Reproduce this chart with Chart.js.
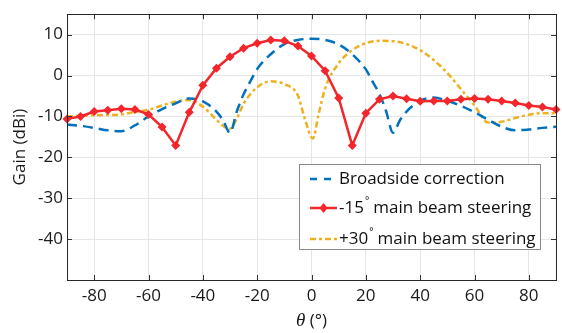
<!DOCTYPE html>
<html>
<head>
<meta charset="utf-8">
<script src="https://cdn.jsdelivr.net/npm/chart.js@4.4.1/dist/chart.umd.min.js"></script>
<style>
  html, body { margin: 0; padding: 0; background: #fff; }
  #wrap { width: 562px; height: 333px; }
</style>
</head>
<body>
<div id="wrap"><canvas id="c" width="562" height="333"></canvas></div>
<script>
// ---- data ----
const xTicks = [-80, -60, -40, -20, 0, 20, 40, 60, 80];
const yTicks = [-40, -30, -20, -10, 0, 10];

const seriesNames = ["Broadside correction", "-15", "+30"];

const broadAngles = [-90,-85,-80,-75,-70,-65,-60,-55,-50,-45,-40,-35,-32.5,-30,-27.5,-25,-22.5,-20,-15,-10,-5,0,5,10,15,20,22.5,25,27.5,30,32.5,35,40,45,50,55,60,65,70,75,80,85,90];
const broadGain   = [-12.0,-12.3,-12.8,-13.4,-13.6,-12.2,-10.0,-8.2,-6.8,-5.6,-6.3,-8.8,-11.0,-14.0,-8.8,-4.6,-1.4,1.6,5.2,7.7,8.7,9.0,8.7,7.6,5.2,1.5,-1.5,-4.5,-8.8,-14.0,-11.0,-8.8,-6.2,-5.4,-6.2,-7.4,-9.0,-10.8,-12.5,-13.4,-13.2,-12.8,-12.5];

const steer15Angles = [-90,-85,-80,-75,-70,-65,-60,-55,-50,-45,-40,-35,-30,-25,-20,-15,-10,-5,0,5,10,15,20,25,30,35,40,45,50,55,60,65,70,75,80,85,90];
const steer15Gain   = [-10.6,-10.0,-8.8,-8.5,-8.1,-8.3,-9.5,-12.6,-17.1,-9.0,-2.4,1.8,4.6,6.7,7.9,8.7,8.5,7.2,4.8,1.2,-5.5,-17.1,-9.2,-5.8,-5.0,-5.7,-6.3,-6.2,-6.2,-5.8,-5.6,-5.8,-6.2,-6.7,-7.3,-7.7,-8.3];

const steer30Angles = [-90,-80,-70,-65,-60,-55,-50,-45,-40,-35,-32.5,-30,-27.5,-25,-20,-15,-10,-5,-2.5,0.5,2.5,5,10,15,20,25,30,35,40,45,50,55,60,65,70,75,80,85,90];
const steer30Gain   = [-10.0,-9.7,-9.5,-8.9,-8.4,-7.3,-6.4,-6.0,-7.6,-10.8,-12.3,-13.0,-10.5,-6.9,-2.9,-1.4,-2.1,-4.9,-10.5,-15.4,-9.8,-3.2,3.0,6.2,7.9,8.5,8.4,7.7,6.2,3.8,0.6,-3.3,-7.3,-11.5,-11.3,-10.4,-9.6,-9.2,-9.2];

const toXY = (xs, ys) => xs.map((x, i) => ({x: x, y: ys[i]}));

const BLUE = '#0072BD', RED = '#F2262B', YEL = '#EDB120';
const FONT = "'Open Sans', 'Noto Sans', sans-serif";
const FS = 17;
const TXT = '#1a1a1a';

const boxPlugin = {
  id: 'matlabBox',
  afterDatasetsDraw(chart) {
    const {ctx, chartArea: a, scales} = chart;
    ctx.save();
    ctx.strokeStyle = '#333';
    ctx.lineWidth = 1;
    ctx.beginPath();
    xTicks.forEach(v => {
      const px = Math.round(scales.x.getPixelForValue(v)) + 0.5;
      ctx.moveTo(px, a.bottom); ctx.lineTo(px, a.bottom - 5);
      ctx.moveTo(px, a.top); ctx.lineTo(px, a.top + 5);
    });
    yTicks.forEach(v => {
      const py = Math.round(scales.y.getPixelForValue(v)) + 0.5;
      ctx.moveTo(a.left, py); ctx.lineTo(a.left + 5, py);
      ctx.moveTo(a.right, py); ctx.lineTo(a.right - 5, py);
    });
    ctx.stroke();
    ctx.strokeStyle = '#262626';
    ctx.strokeRect(Math.round(a.left) + 0.5, Math.round(a.top) + 0.5, Math.round(a.right - a.left), Math.round(a.bottom - a.top));
    ctx.restore();
  },
  afterDraw(chart) {
    const {ctx, chartArea: a} = chart;
    ctx.save();
    // legend box
    const bx = 299.5, by = 164.5, bw = 241, bh = 85;
    ctx.fillStyle = '#fff';
    ctx.fillRect(bx, by, bw, bh);
    ctx.strokeStyle = '#8a8a8a';
    ctx.lineWidth = 1;
    ctx.strokeRect(bx, by, bw, bh);
    const rows = [179, 208, 239];
    const x0 = 310, x1 = 337, tx = 339;
    ctx.lineWidth = 2.5;
    // blue
    ctx.strokeStyle = BLUE; ctx.setLineDash([7, 7]);
    ctx.beginPath(); ctx.moveTo(x0, rows[0]); ctx.lineTo(x1, rows[0]); ctx.stroke();
    // red
    ctx.strokeStyle = RED; ctx.setLineDash([]);
    ctx.beginPath(); ctx.moveTo(x0, rows[1]); ctx.lineTo(x1, rows[1]); ctx.stroke();
    ctx.fillStyle = RED;
    ctx.beginPath(); ctx.moveTo(323.5, rows[1] - 5); ctx.lineTo(327.5, rows[1]); ctx.lineTo(323.5, rows[1] + 5); ctx.lineTo(319.5, rows[1]); ctx.closePath(); ctx.fill();
    // yellow
    ctx.strokeStyle = YEL; ctx.setLineDash([6, 3, 3, 3]);
    ctx.beginPath(); ctx.moveTo(x0, rows[2]); ctx.lineTo(x1, rows[2]); ctx.stroke();
    ctx.setLineDash([]);
    // texts
    ctx.fillStyle = '#111';
    ctx.textBaseline = 'middle';
    ctx.textAlign = 'left';
    ctx.font = FS + 'px ' + FONT;
    ctx.fillText(seriesNames[0], tx, rows[0]);
    const supText = (pre, y) => {
      ctx.font = FS + 'px ' + FONT;
      ctx.fillText(pre, tx, y);
      let w = ctx.measureText(pre).width;
      ctx.font = '10px ' + FONT;
      ctx.fillText('\u00B0', tx + w + 1, y - 7);
      ctx.font = FS + 'px ' + FONT;
      ctx.fillText(' main beam steering', tx + w + 5, y);
    };
    supText(seriesNames[1], rows[1]);
    supText(seriesNames[2], rows[2]);
    // x title
    const cx = (a.left + a.right) / 2;
    ctx.textBaseline = 'alphabetic';
    ctx.font = 'italic 19px "Liberation Serif", serif';
    const th = '\u03B8';
    const thW = ctx.measureText(th).width;
    ctx.font = FS + 'px ' + FONT;
    const rest = ' (\u00B0)';
    const rW = ctx.measureText(rest).width;
    let sx = cx - (thW + rW) / 2;
    ctx.fillStyle = TXT;
    ctx.font = 'italic 19px "Liberation Serif", serif';
    ctx.fillText(th, sx, 326);
    ctx.font = FS + 'px ' + FONT;
    ctx.fillText(rest, sx + thW, 326);
    ctx.restore();
  }
};

new Chart(document.getElementById('c'), {
  type: 'line',
  data: {
    datasets: [
      { label: seriesNames[0], data: toXY(broadAngles, broadGain), borderColor: BLUE, borderWidth: 2.5,
        borderDash: [10, 6], pointRadius: 0, cubicInterpolationMode: 'monotone', order: 1 },
      { label: seriesNames[1], data: toXY(steer15Angles, steer15Gain), borderColor: RED, backgroundColor: RED,
        borderWidth: 2.5, pointStyle: 'rectRot', pointRadius: 4.5, pointBorderWidth: 0, tension: 0, order: 0, clip: 8 },
      { label: seriesNames[2], data: toXY(steer30Angles, steer30Gain), borderColor: YEL, borderWidth: 2.5,
        borderDash: [6, 3, 3, 3], pointRadius: 0, cubicInterpolationMode: 'monotone', order: 2 }
    ]
  },
  options: {
    responsive: false,
    animation: false,
    devicePixelRatio: 1,
    layout: { padding: { left: 0, right: 6, top: 7, bottom: 0 } },
    plugins: { legend: { display: false }, tooltip: { enabled: false } },
    scales: {
      x: {
        type: 'linear', min: -90, max: 90,
        afterBuildTicks: s => { s.ticks = xTicks.map(v => ({ value: v })); },
        afterFit: s => { s.height = 53; },
        grid: { color: '#e6e6e6', drawTicks: false },
        border: { display: false },
        ticks: { color: TXT, font: { family: FONT, size: FS }, padding: 6, maxRotation: 0 }
      },
      y: {
        type: 'linear', min: -50, max: 15,
        afterBuildTicks: s => { s.ticks = yTicks.map(v => ({ value: v })); },
        afterFit: s => { s.width = 67; },
        grid: { color: '#e6e6e6', drawTicks: false },
        border: { display: false },
        title: { display: true, text: 'Gain (dBi)', color: TXT, font: { family: FONT, size: FS }, padding: { top: 10, bottom: 0 } },
        ticks: { color: TXT, font: { family: FONT, size: FS }, padding: 4 }
      }
    }
  },
  plugins: [boxPlugin]
});
</script>
</body>
</html>
